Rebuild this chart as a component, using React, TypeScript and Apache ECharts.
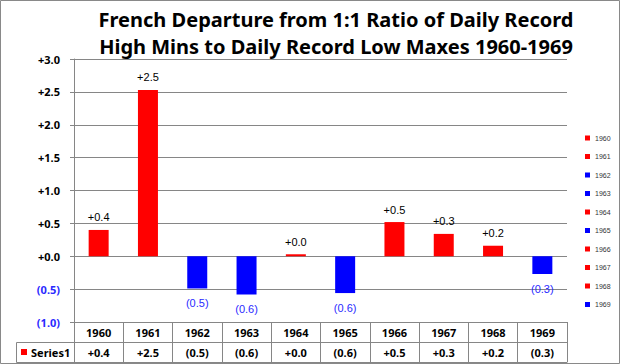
import React, { useEffect, useRef } from "react";
import * as echarts from "echarts";

const years = ["1960", "1961", "1962", "1963", "1964", "1965", "1966", "1967", "1968", "1969"];
const values = [0.4, 2.53, -0.49, -0.58, 0.03, -0.56, 0.52, 0.34, 0.16, -0.27];
const yTicks = { min: -1, max: 3, interval: 0.5 };
const titleLines = ["French Departure from 1:1 Ratio of Daily Record", "High Mins to Daily Record Low Maxes 1960-1969"];
const seriesLabel = "Series1";

const POS = "#ff0000";
const NEG = "#0000ff";
const NEG_TEXT = "#2a2aff";
const GRID = "#868686";

const fmt = (v: number) => (v < 0 ? "(" + (-v).toFixed(1) + ")" : "+" + v.toFixed(1));

export default function App() {
  const ref = useRef<HTMLDivElement>(null);
  useEffect(() => {
    document.body.style.margin = "0";
    const chart = echarts.init(ref.current!, null, { renderer: "svg" });
    const series = years.map((y, i) => ({
      name: y,
      type: "bar",
      stack: "all",
      barWidth: 20,
      color: values[i] < 0 ? NEG : POS,
      data: values.map((v, j) => (j === i ? v : "-")),
      label: {
        show: true,
        position: values[i] < 0 ? "bottom" : "top",
        distance: values[i] < 0 ? 9 : 7,
        formatter: (p: any) => fmt(p.value),
        color: values[i] < 0 ? NEG_TEXT : "#000",
        fontSize: 11,
        fontFamily: "Liberation Sans",
      },
    }));
    const tableAxis = (data: string[], offset: number, showLabels: boolean) => ({
      type: "category",
      data,
      position: "bottom",
      offset,
      axisLine: { show: true, onZero: false, lineStyle: { color: GRID } },
      axisTick: { show: showLabels, length: 20, interval: 0, lineStyle: { color: GRID } },
      axisLabel: { show: showLabels, interval: 0, margin: 5, fontSize: 11, fontWeight: "bold", fontFamily: "Noto Sans", color: "#000" },
    });
    chart.setOption({
      animation: false,
      backgroundColor: "#fff",
      title: {
        text: titleLines.join("\n"),
        left: 331,
        top: 1,
        textAlign: "center",
        textStyle: { fontSize: 20, fontWeight: "bold", fontFamily: "Noto Sans", color: "#000", lineHeight: 27 },
      },
      legend: {
        orient: "vertical",
        left: 580,
        top: 129,
        itemWidth: 5,
        itemHeight: 5,
        itemGap: 10.5,
        icon: "rect",
        data: years,
        selectedMode: false,
        textStyle: { fontSize: 7, fontFamily: "Liberation Sans", color: "#333", lineHeight: 8 },
      },
      grid: { left: 74, right: 54, top: 59, bottom: 42, containLabel: false },
      yAxis: {
        type: "value",
        min: yTicks.min,
        max: yTicks.max,
        interval: yTicks.interval,
        axisLine: { show: true, lineStyle: { color: GRID } },
        axisTick: { show: true, length: 4, lineStyle: { color: GRID } },
        splitLine: { show: true, lineStyle: { color: GRID } },
        axisLabel: {
          margin: 14,
          fontSize: 11,
          fontWeight: "bold",
          fontFamily: "Noto Sans",
          formatter: (v: number) => fmt(v),
          color: (v: any) => (parseFloat(v) < 0 ? NEG_TEXT : "#000"),
        },
      },
      xAxis: [
        tableAxis(years, 0, true),
        tableAxis(values.map(fmt), 20, true),
        tableAxis(years, 40, false),
      ],
      graphic: [
        { type: "rect", shape: { x: 0.5, y: 0.5, width: 619, height: 363 }, style: { fill: "none", stroke: "#898989", lineWidth: 1 }, silent: true },
        { type: "polyline", shape: { points: [[74, 342.5], [16.5, 342.5], [16.5, 362.5], [74, 362.5]] }, style: { fill: "none", stroke: GRID, lineWidth: 1 }, silent: true },
        { type: "rect", shape: { x: 21, y: 349, width: 6, height: 6 }, style: { fill: POS } },
        { type: "text", x: 31, y: 352.5, style: { text: seriesLabel, fontSize: 11, fontWeight: "bold", fontFamily: "Noto Sans", fill: "#000", verticalAlign: "middle" } },
      ],
      series,
    });
    return () => chart.dispose();
  }, []);
  return <div ref={ref} style={{ width: 621, height: 364 }} />;
}
